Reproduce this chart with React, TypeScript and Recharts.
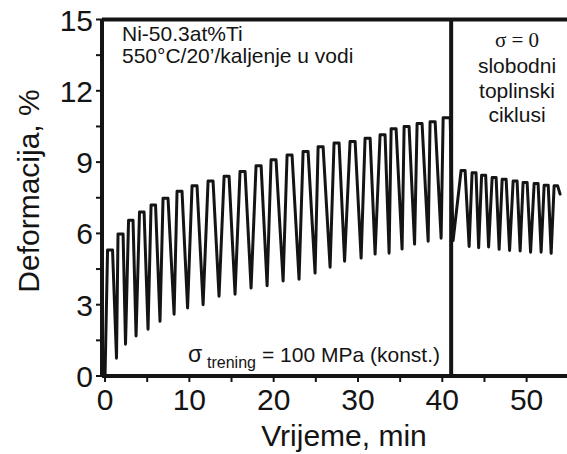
import React from 'react';
import { LineChart, Line, XAxis, YAxis, ReferenceLine } from 'recharts';

// ---- Data (time in min, strain in %) ----
// Training phase under constant stress (100 MPa)
const trainStart = { t: 0, v: 0 };
const trainPeakStart = [0.3, 1.54, 2.79, 4.09, 5.46, 6.88, 8.54, 10.32, 12.22, 14.12, 16.01, 17.91, 19.69, 21.59, 23.49, 25.27, 27.16, 29.06, 30.84, 32.62, 33.93, 35.47, 37.01, 38.55, 40.1];
const trainPeakEnd = [0.89, 2.14, 3.32, 4.63, 5.99, 7.47, 9.13, 10.91, 12.81, 14.71, 16.61, 18.51, 20.28, 22.18, 24.08, 25.86, 27.76, 29.66, 31.44, 33.21, 34.52, 36.06, 37.6, 39.15, 40.93];
const trainPeakValue = [5.3, 5.97, 6.55, 6.9, 7.2, 7.48, 7.77, 8.0, 8.2, 8.4, 8.6, 8.85, 9.1, 9.3, 9.45, 9.65, 9.8, 9.87, 10.0, 10.15, 10.4, 10.5, 10.62, 10.7, 10.87];
const trainTroughTime = [1.36, 2.43, 3.68, 5.1, 6.52, 8.19, 9.79, 11.63, 13.52, 15.42, 17.32, 19.22, 21.12, 23.01, 24.91, 26.69, 28.41, 30.37, 32.03, 33.69, 35.23, 36.71, 38.32, 39.86];
const trainTroughValue = [0.75, 1.34, 1.68, 1.97, 2.3, 2.6, 2.86, 3.0, 3.36, 3.44, 3.7, 3.8, 4.0, 4.07, 4.33, 4.58, 4.83, 4.96, 5.13, 5.17, 5.34, 5.55, 5.67, 5.8];

// Stress removed: free thermal cycles (sigma = 0)
const stressOffTime = 41.05;
const freeStart = { t: 41.28, v: 5.7 };
const freePeakStart = [42.23, 43.53, 44.66, 45.91, 47.1, 48.4, 49.58, 50.89, 52.08, 53.26];
const freePeakEnd = [42.7, 44.0, 45.14, 46.38, 47.57, 48.87, 50.06, 51.36, 52.56, 53.68];
const freePeakValue = [8.65, 8.55, 8.45, 8.35, 8.28, 8.2, 8.14, 8.1, 8.03, 8.0];
const freeTroughTime = [43.18, 44.31, 45.49, 46.74, 47.98, 49.23, 50.47, 51.72, 52.91];
const freeTroughValue = [5.45, 5.4, 5.43, 5.33, 5.28, 5.26, 5.21, 5.21, 5.16];
const freeEnd = { t: 53.97, v: 7.65 };

const xTicks = [0, 5, 10, 15, 20, 25, 30, 35, 40, 45, 50, 55];
const yTicks = [0, 1.5, 3, 4.5, 6, 7.5, 9, 10.5, 12, 13.5, 15];

function buildSeries() {
  const pts: { t: number; v: number }[] = [];
  pts.push(trainStart);
  trainPeakStart.forEach((ps, i) => {
    pts.push({ t: ps, v: trainPeakValue[i] });
    pts.push({ t: trainPeakEnd[i], v: trainPeakValue[i] });
    if (i < trainTroughTime.length) pts.push({ t: trainTroughTime[i], v: trainTroughValue[i] });
  });
  pts.push(freeStart);
  freePeakStart.forEach((ps, i) => {
    pts.push({ t: ps, v: freePeakValue[i] });
    pts.push({ t: freePeakEnd[i], v: freePeakValue[i] });
    if (i < freeTroughTime.length) pts.push({ t: freeTroughTime[i], v: freeTroughValue[i] });
  });
  pts.push(freeEnd);
  return pts;
}

const data = buildSeries();

const INK = '#141414';
const FONT = '"Liberation Sans", Arial, Helvetica, sans-serif';

const XTick = (props: any) => {
  const { x, y, payload } = props;
  if (payload.value % 10 !== 0) return null;
  return (
    <text x={x} y={y} dy={26} textAnchor="middle" fontFamily={FONT} fontSize={30} fill={INK}>
      {payload.value}
    </text>
  );
};

const YTick = (props: any) => {
  const { x, y, payload } = props;
  if (payload.value % 3 !== 0) return null;
  return (
    <text x={x - 1} y={y} dy={11} textAnchor="end" fontFamily={FONT} fontSize={30} fill={INK}>
      {payload.value}
    </text>
  );
};

export default function App() {
  return (
    <div style={{ position: 'absolute', left: 0, top: 0, width: 567, height: 454, overflow: 'hidden', background: '#fff' }}>
      <LineChart width={580} height={454} data={data} margin={{ top: 19.5, right: 7, bottom: 0, left: 0 }}>
        <XAxis
          dataKey="t"
          type="number"
          domain={[-0.36, 55.5]}
          allowDataOverflow
          ticks={xTicks}
          interval={0}
          tick={<XTick />}
          tickSize={6}
          tickMargin={2}
          height={78}
          axisLine={{ stroke: INK, strokeWidth: 4 }}
          tickLine={{ stroke: INK, strokeWidth: 2 }}
        />
        <YAxis
          type="number"
          domain={[0, 15]}
          allowDataOverflow
          ticks={yTicks}
          interval={0}
          tick={<YTick />}
          tickSize={6}
          tickMargin={2}
          width={102}
          axisLine={{ stroke: INK, strokeWidth: 4 }}
          tickLine={{ stroke: INK, strokeWidth: 2 }}
        />
        <ReferenceLine y={15} stroke={INK} strokeWidth={4} />
        <ReferenceLine x={stressOffTime} stroke={INK} strokeWidth={4} />
        <Line
          type="linear"
          dataKey="v"
          stroke={INK}
          strokeWidth={3}
          strokeLinejoin="round"
          strokeLinecap="round"
          dot={false}
          isAnimationActive={false}
        />
      </LineChart>
      <svg width={567} height={454} style={{ position: 'absolute', left: 0, top: 0, pointerEvents: 'none' }}>
        <g fontFamily={FONT} fill={INK}>
          <text x={39} y={191} fontSize={30} textAnchor="middle" transform="rotate(-90 39 191)">Deformacija, %</text>
          <text x={344} y={446} fontSize={30} textAnchor="middle">Vrijeme, min</text>
          <text x={122} y={41} fontSize={21}>Ni-50.3at%Ti</text>
          <text x={122} y={63} fontSize={21}>550°C/20’/kaljenje u vodi</text>
          <text x={517} y={47} fontSize={21} textAnchor="middle" fontFamily='"Liberation Serif", "Times New Roman", serif'>σ = 0</text>
          <text x={517} y={73} fontSize={21} textAnchor="middle">slobodni</text>
          <text x={517} y={98} fontSize={21} textAnchor="middle">toplinski</text>
          <text x={517} y={122} fontSize={21} textAnchor="middle">ciklusi</text>
          <text x={188} y={362} fontSize={23}>σ</text>
          <text x={207} y={368} fontSize={16}>trening</text>
          <text x={262} y={362} fontSize={21}>= 100 MPa (konst.)</text>
        </g>
      </svg>
    </div>
  );
}
